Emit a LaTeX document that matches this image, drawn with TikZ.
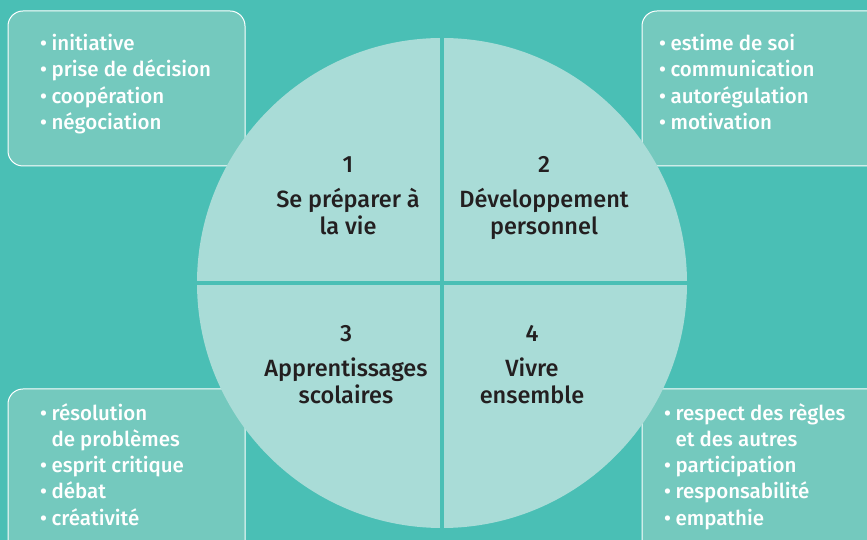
\documentclass[tikz,border=0pt]{standalone}
\usepackage{fontspec}
\setmainfont{Fira Sans Medium}
\usepackage{tikz}
\definecolor{bgteal}{HTML}{4ABFB5}
\definecolor{boxteal}{HTML}{74C9BE}
\definecolor{disc}{HTML}{A9DCD7}
\definecolor{ink}{HTML}{231F20}

\tikzset{
  skillbox/.style={fill=boxteal, draw=white, line width=1pt, rounded corners=15pt},
  skills/.style={anchor=north west, inner sep=0pt, align=left, text=white,
    font=\fontsize{20.5}{26.3}\selectfont},
  area/.style={anchor=north, inner sep=0pt, align=center, text=ink,
    font=\fontsize{23.5}{27}\selectfont}
}
\newcommand{\itm}{\textbullet\hspace{4.5pt}}
\newcommand{\cont}{\phantom{\textbullet\hspace{4.5pt}}}

\begin{document}
\begin{tikzpicture}[x=1pt, y=1pt]
  \useasboundingbox (0,0) rectangle (867,540);
  \fill[bgteal] (0,0) rectangle (867,540);

  % corner boxes
  \draw[skillbox] (8,374) rectangle (245,529);
  \draw[skillbox] (642,374) rectangle (900,529);
  \draw[skillbox] (8,-30) rectangle (245,151);
  \draw[skillbox] (642,-30) rectangle (900,151);

  % disc cut into quarters
  \coordinate (c) at (442,257);
  \fill[disc] (c) circle (245);
  \draw[bgteal, line width=4pt] ([yshift=250]c) -- ([yshift=-250]c);
  \draw[bgteal, line width=4pt] ([xshift=-250]c) -- ([xshift=250]c);

  \node[area] (a1) at (348,384) {1\\[8pt]Se préparer à\\la vie};
  \node[area] (a2) at (544,384) {2\\[8pt]Développement\\personnel};
  \node[area] (a3) at (346,215) {3\\[8pt]Apprentissages\\scolaires};
  \node[area] (a4) at (532,215) {4\\[8pt]Vivre\\ensemble};

  \node[skills] (s1) at (40,506) {\itm initiative\\\itm prise de décision\\\itm coopération\\\itm négociation};
  \node[skills] (s2) at (659,506) {\itm estime de soi\\\itm communication\\\itm autorégulation\\\itm motivation};
  \node[skills] (s3) at (40,137) {\itm résolution\\\cont de problèmes\\\itm esprit critique\\\itm débat\\\itm créativité};
  \node[skills] (s4) at (664,137) {\itm respect des règles\\\cont et des autres\\\itm participation\\\itm responsabilité\\\itm empathie};
\end{tikzpicture}
\end{document}
